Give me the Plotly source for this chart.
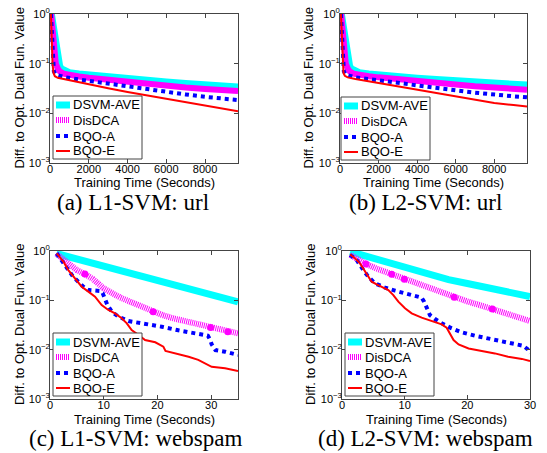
import plotly.graph_objects as go

W, H = 547, 453

SERIES = ["DSVM-AVE", "DisDCA", "BQO-A", "BQO-E"]

# ---------- Panel (a): L1-SVM url ----------
a_cyan_x = [70, 200, 300, 350, 420, 500, 600, 800, 1000, 1500, 2000, 3000, 4000, 5000, 6000, 7000, 8000, 9000, 9700]
a_cyan_y = [1.0, 0.4, 0.2, 0.14, 0.105, 0.088, 0.078, 0.07, 0.066, 0.062, 0.059, 0.054, 0.05, 0.046, 0.043, 0.04, 0.038, 0.036, 0.034]
a_mag_x = [60, 150, 220, 300, 400, 500, 700, 1000, 1500, 2000, 3000, 4000, 5000, 6000, 7000, 8000, 9000, 9700]
a_mag_y = [1.0, 0.35, 0.15, 0.1, 0.08, 0.07, 0.063, 0.059, 0.055, 0.052, 0.047, 0.042, 0.039, 0.036, 0.033, 0.031, 0.029, 0.028]
a_blue_x = [50, 100, 150, 200, 300, 500, 800, 1500, 2000, 3000, 4000, 5000, 6000, 7000, 8000, 9000, 9700]
a_blue_y = [1.0, 0.3, 0.1, 0.07, 0.06, 0.056, 0.053, 0.048, 0.045, 0.039, 0.034, 0.030, 0.027, 0.024, 0.0215, 0.0195, 0.0185]
a_red_x = [50, 90, 130, 180, 250, 400, 800, 1500, 2000, 3000, 4000, 5000, 6000, 7000, 8000, 9000, 9700]
a_red_y = [1.0, 0.3, 0.1, 0.065, 0.056, 0.052, 0.048, 0.042, 0.038, 0.032, 0.027, 0.023, 0.0195, 0.0165, 0.0142, 0.0123, 0.011]

# ---------- Panel (b): L2-SVM url ----------
b_cyan_x = a_cyan_x
b_cyan_y = [1.0, 0.4, 0.2, 0.14, 0.105, 0.088, 0.078, 0.07, 0.066, 0.062, 0.059, 0.055, 0.051, 0.048, 0.045, 0.043, 0.041, 0.039, 0.037]
b_mag_x = a_mag_x
b_mag_y = [1.0, 0.35, 0.15, 0.1, 0.08, 0.07, 0.063, 0.059, 0.056, 0.053, 0.048, 0.044, 0.041, 0.038, 0.035, 0.033, 0.031, 0.030]
b_blue_x = a_blue_x
b_blue_y = [1.0, 0.3, 0.1, 0.07, 0.06, 0.056, 0.053, 0.049, 0.046, 0.041, 0.036, 0.032, 0.029, 0.026, 0.0235, 0.022, 0.021]
b_red_x = a_red_x
b_red_y = [1.0, 0.3, 0.1, 0.065, 0.057, 0.053, 0.049, 0.044, 0.040, 0.034, 0.029, 0.025, 0.0215, 0.0185, 0.0162, 0.0147, 0.0138]

# ---------- Panel (c): L1-SVM webspam ----------
c_cyan_x = [1.2, 3, 5, 8, 11, 14, 17, 20, 23, 26, 29, 32, 35]
c_cyan_y = [0.89, 0.79, 0.69, 0.56, 0.46, 0.38, 0.31, 0.26, 0.215, 0.178, 0.145, 0.117, 0.093]
c_mag_x = [1.2, 2, 3, 4, 5, 6.5, 8, 10, 11.5, 13, 15, 17, 19.2, 21, 23, 25, 27, 29.9, 33.1, 35]
c_mag_y = [0.88, 0.75, 0.6, 0.48, 0.41, 0.34, 0.27, 0.175, 0.14, 0.115, 0.093, 0.074, 0.059, 0.05, 0.043, 0.038, 0.033, 0.028, 0.023, 0.0214]
c_blob_x = [6.5, 19.2, 29.9, 33.1]
c_blob_y = [0.34, 0.059, 0.028, 0.023]
c_blue_x = [1.24, 2.3, 3.41, 4.3, 5.27, 6.2, 7.14, 8.2, 9.31, 9.8, 10.1, 10.7, 11.5, 12.7, 14.6, 17.7, 20.8, 23.9, 27.0, 29.4, 29.8, 30.1, 30.8, 32.6, 35]
c_blue_y = [0.90, 0.62, 0.41, 0.30, 0.239, 0.19, 0.162, 0.157, 0.155, 0.14, 0.119, 0.080, 0.059, 0.047, 0.038, 0.0336, 0.0292, 0.0247, 0.0214, 0.0192, 0.016, 0.0128, 0.0098, 0.0091, 0.0078]
c_red_x = [1.24, 2.48, 3.41, 4.65, 5.9, 7.14, 8.38, 9.62, 10.86, 12.1, 13.35, 14.3, 15.2, 16.5, 17.7, 19.6, 21.1, 21.5, 23.3, 25.8, 27.6, 28.7, 30.1, 32.6, 35]
c_red_y = [0.90, 0.61, 0.41, 0.279, 0.189, 0.150, 0.119, 0.080, 0.0637, 0.0545, 0.0432, 0.0342, 0.025, 0.0198, 0.0157, 0.0141, 0.0115, 0.0094, 0.0084, 0.0072, 0.0062, 0.0053, 0.0045, 0.0042, 0.0037]

# ---------- Panel (d): L2-SVM webspam ----------
d_cyan_x = [1.3, 3, 5, 8, 11, 14, 17, 20, 23, 26, 30]
d_cyan_y = [0.97, 0.84, 0.71, 0.543, 0.42, 0.323, 0.263, 0.219, 0.182, 0.151, 0.119]
d_mag_x = [1.3, 2.5, 3.83, 5.5, 7.93, 9.95, 12, 14, 16, 17.9, 20, 22, 24, 27, 30]
d_mag_y = [0.83, 0.66, 0.545, 0.44, 0.337, 0.267, 0.215, 0.175, 0.14, 0.115, 0.095, 0.080, 0.0667, 0.05, 0.038]
d_blob_x = [3.83, 7.93, 9.95, 17.9, 24.0]
d_blob_y = [0.545, 0.337, 0.267, 0.115, 0.0667]
d_blue_x = [1.28, 2.34, 3.41, 4.2, 5.27, 6.86, 8.46, 10.05, 11.65, 12.71, 13.1, 13.5, 14.04, 14.84, 15.9, 17.5, 19.1, 21.2, 23.4, 25.5, 27.6, 28.9, 29.6, 30]
d_blue_y = [0.83, 0.657, 0.41, 0.30, 0.221, 0.181, 0.157, 0.139, 0.124, 0.113, 0.094, 0.069, 0.050, 0.0418, 0.0342, 0.027, 0.0225, 0.0192, 0.017, 0.015, 0.0134, 0.012, 0.0103, 0.0084]
d_red_x = [1.28, 2.07, 2.87, 3.67, 4.2, 4.73, 5.53, 6.33, 7.39, 8.19, 8.99, 10.05, 11.12, 12.71, 14.3, 15.9, 16.7, 17.2, 17.8, 18.6, 20.2, 22.3, 24.4, 26.5, 28.7, 30]
d_red_y = [0.855, 0.71, 0.562, 0.381, 0.30, 0.239, 0.211, 0.189, 0.162, 0.128, 0.094, 0.069, 0.0545, 0.0445, 0.038, 0.0326, 0.0279, 0.0214, 0.0157, 0.0128, 0.0106, 0.0094, 0.0084, 0.0072, 0.0065, 0.0059]

# ---------- Axis text ----------
y_tickvals = [0.001, 0.01, 0.1, 1]
y_ticktext = ["10<sup>\u22123</sup>", "10<sup>\u22122</sup>", "10<sup>\u22121</sup>", "10<sup>0</sup>"]
url_xticks = [0, 2000, 4000, 6000, 8000]
web_xticks = [0, 10, 20, 30]
captions = ["(a) L1-SVM: url", "(b) L2-SVM: url", "(c) L1-SVM: webspam", "(d) L2-SVM: webspam"]
x_title = "Training Time (Seconds)"
y_title = "Diff. to Opt. Dual Fun. Value"

panels = [
    dict(data=[(a_cyan_x, a_cyan_y), (a_mag_x, a_mag_y), (a_blue_x, a_blue_y), (a_red_x, a_red_y)],
         blobs=None, xr=[0, 9700], xt=url_xticks, px=(50, 238), py=(14, 163), solid_mag=True,
         leg=(53, 96), cap=(133, 202), xt_y=182, yt_x=19),
    dict(data=[(b_cyan_x, b_cyan_y), (b_mag_x, b_mag_y), (b_blue_x, b_blue_y), (b_red_x, b_red_y)],
         blobs=None, xr=[0, 9700], xt=url_xticks, px=(340, 527), py=(14, 163), solid_mag=True,
         leg=(341, 97), cap=(425, 202), xt_y=182, yt_x=308),
    dict(data=[(c_cyan_x, c_cyan_y), (c_mag_x, c_mag_y), (c_blue_x, c_blue_y), (c_red_x, c_red_y)],
         blobs=(c_blob_x, c_blob_y), xr=[0, 35], xt=web_xticks, px=(50, 238), py=(251, 399), solid_mag=False,
         leg=(53, 333), cap=(135, 438), xt_y=419, yt_x=19),
    dict(data=[(d_cyan_x, d_cyan_y), (d_mag_x, d_mag_y), (d_blue_x, d_blue_y), (d_red_x, d_red_y)],
         blobs=(d_blob_x, d_blob_y), xr=[0, 30], xt=web_xticks, px=(342, 530), py=(251, 399), solid_mag=False,
         leg=(345, 333), cap=(425, 438), xt_y=419, yt_x=310),
]

FONT = "Liberation Sans, Arial, sans-serif"
styles = [
    dict(color="#00FFFF", width=7, dash="solid"),
    dict(color="#FF00FF", width=6, dash="1px,1px"),
    dict(color="#0000FF", width=4, dash="dot"),
    dict(color="#FF0000", width=2, dash="solid"),
]
LEG_W, LEG_H = 89, 63
LEG_ROWS = [9, 24, 40, 55]

fig = go.Figure()
layout = dict(width=W, height=H, autosize=False, margin=dict(l=0, r=0, t=0, b=0),
              template="none", showlegend=False,
              paper_bgcolor="white", plot_bgcolor="white", font=dict(family=FONT, color="black"),
              annotations=[], shapes=[])

for i, p in enumerate(panels):
    k = "" if i == 0 else str(i + 1)
    for j, (xs, ys) in enumerate(p["data"]):
        st = styles[j]
        dash = "solid" if (j == 1 and p["solid_mag"]) else st["dash"]
        fig.add_trace(go.Scatter(
            x=xs, y=ys, mode="lines", name=SERIES[j],
            line=dict(color=st["color"], width=st["width"], dash=dash),
            xaxis="x" + k, yaxis="y" + k, showlegend=False,
        ))
    if p["blobs"]:
        fig.add_trace(go.Scatter(
            x=p["blobs"][0], y=p["blobs"][1], mode="markers", showlegend=False, name=SERIES[1],
            marker=dict(color="#FF00FF", size=7), xaxis="x" + k, yaxis="y" + k,
        ))
    x0, x1 = p["px"]
    y0, y1 = p["py"]
    axcommon = dict(showline=True, linecolor="#444", linewidth=1, mirror="ticks", ticks="inside",
                    ticklen=4, tickcolor="#444", showgrid=False, zeroline=False, automargin=False,
                    tickfont=dict(family=FONT, size=11, color="black"))
    layout["xaxis" + k] = dict(axcommon, domain=[x0 / W, x1 / W], range=p["xr"], tickvals=p["xt"],
                               anchor="y" + k, ticklabelstandoff=-4)
    layout["yaxis" + k] = dict(axcommon, domain=[1 - y1 / H, 1 - y0 / H], type="log", range=[-3, 0],
                               tickvals=y_tickvals, ticktext=y_ticktext, anchor="x" + k,
                               ticklabelstandoff=-3)
    # axis titles
    layout["annotations"].append(dict(
        text=x_title, x=(x0 + x1) / 2 / W, y=1 - p["xt_y"] / H, xref="paper", yref="paper",
        xanchor="center", yanchor="middle", showarrow=False,
        font=dict(family=FONT, size=13, color="black")))
    layout["annotations"].append(dict(
        text=y_title, x=p["yt_x"] / W, y=1 - (y0 + y1) / 2 / H, xref="paper", yref="paper",
        xanchor="center", yanchor="middle", showarrow=False, textangle=-90,
        font=dict(family=FONT, size=13, color="black")))
    # legend box (drawn on paper, matching the MATLAB legend)
    lx, ly = p["leg"]
    layout["shapes"].append(dict(type="rect", xref="paper", yref="paper",
                                 x0=lx / W, x1=(lx + LEG_W) / W, y0=1 - (ly + LEG_H) / H, y1=1 - ly / H,
                                 fillcolor="white", line=dict(color="#444", width=1), layer="above"))
    for j, name in enumerate(SERIES):
        st = styles[j]
        ry = 1 - (ly + LEG_ROWS[j]) / H
        layout["shapes"].append(dict(type="line", xref="paper", yref="paper",
                                     x0=(lx + 3) / W, x1=(lx + 17) / W, y0=ry, y1=ry,
                                     line=dict(color=st["color"], width=st["width"], dash=st["dash"]),
                                     layer="above"))
        layout["annotations"].append(dict(
            text=name, x=(lx + 18) / W, y=ry, xref="paper", yref="paper",
            xanchor="left", yanchor="middle", showarrow=False,
            font=dict(family=FONT, size=13, color="black")))
    cx, cy = p["cap"]
    layout["annotations"].append(dict(
        text=captions[i], x=cx / W, y=1 - cy / H, xref="paper", yref="paper",
        xanchor="center", yanchor="middle", showarrow=False,
        font=dict(family="Liberation Serif, Times New Roman, serif", size=23, color="black")))

fig.update_layout(**layout)
fig.write_html("out.html", config={"displayModeBar": False},
               post_script="document.body.style.margin='0px';document.body.style.overflow='hidden';")
